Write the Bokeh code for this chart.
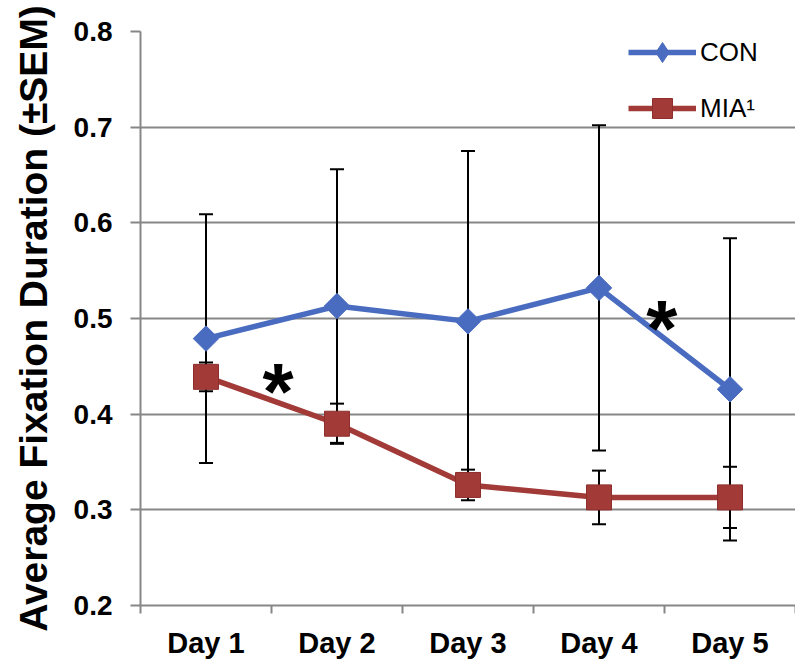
from bokeh.plotting import figure
from bokeh.models import FixedTicker, Whisker, ColumnDataSource, Legend, LegendItem, TeeHead
from bokeh.core.properties import value
from bokeh.embed import file_html
from bokeh.resources import INLINE

days = ["Day 1", "Day 2", "Day 3", "Day 4", "Day 5"]
con_mean = [0.479, 0.513, 0.497, 0.532, 0.426]
con_sem = [0.130, 0.143, 0.178, 0.170, 0.158]
mia_mean = [0.439, 0.390, 0.326, 0.313, 0.313]
mia_sem = [0.015, 0.021, 0.016, 0.028, 0.032]
y_ticks = [0.2, 0.3, 0.4, 0.5, 0.6, 0.7, 0.8]
sig_x = [1.55, 4.48]
sig_y = [0.435, 0.501]
sig_text = ["*", "*"]

CON_COLOR = "#4A6CC0"
MIA_COLOR = "#A23A38"
GRAY = "#878787"
FONT = "Liberation Sans"

x = list(range(1, len(days) + 1))
boundaries = [i + 0.5 for i in range(0, len(days) + 1)]

p = figure(output_backend="svg", toolbar_location=None,
           x_range=(0.5, len(days) + 0.5), y_range=(0.2, 0.8),
           frame_width=655, frame_height=574,
           min_border_left=140, min_border_right=0,
           min_border_top=31, min_border_bottom=60,
           tools="")
p.outline_line_color = None
p.background_fill_color = "white"

# grid
p.xgrid.grid_line_color = None
p.ygrid.grid_line_color = GRAY
p.ygrid.grid_line_width = 2
p.ygrid.ticker = FixedTicker(ticks=y_ticks)

# y axis
p.yaxis.ticker = FixedTicker(ticks=y_ticks)
p.yaxis.axis_line_color = GRAY
p.yaxis.axis_line_width = 2
p.yaxis.major_tick_line_color = GRAY
p.yaxis.major_tick_line_width = 2
p.yaxis.major_tick_out = 10
p.yaxis.major_tick_in = 0
p.yaxis.minor_tick_line_color = None
p.yaxis.major_label_text_font = FONT
p.yaxis.major_label_text_font_style = "bold"
p.yaxis.major_label_text_font_size = "28px"
p.yaxis.major_label_text_color = "black"
p.yaxis.major_label_standoff = 18
p.yaxis.axis_label = "Average Fixation Duration (\u00b1SEM)"
p.yaxis.axis_label_text_font = FONT
p.yaxis.axis_label_text_font_style = "bold"
p.yaxis.axis_label_text_font_size = "39px"
p.yaxis.axis_label_text_color = "black"
p.yaxis.axis_label_standoff = 16

# x axis
p.xaxis.ticker = FixedTicker(ticks=x, minor_ticks=boundaries)
p.xaxis.major_label_overrides = {xi: d for xi, d in zip(x, days)}
p.xaxis.axis_line_color = GRAY
p.xaxis.axis_line_width = 2
p.xaxis.major_tick_line_color = None
p.xaxis.major_tick_out = 8
p.xaxis.major_tick_in = 0
p.xaxis.minor_tick_line_color = GRAY
p.xaxis.minor_tick_line_width = 2
p.xaxis.minor_tick_out = 8
p.xaxis.minor_tick_in = 0
p.xaxis.major_label_text_font = FONT
p.xaxis.major_label_text_font_style = "bold"
p.xaxis.major_label_text_font_size = "29px"
p.xaxis.major_label_text_color = "black"
p.xaxis.major_label_standoff = 13

# error bars
con_src = ColumnDataSource(dict(x=x, y=con_mean,
                                upper=[m + s for m, s in zip(con_mean, con_sem)],
                                lower=[m - s for m, s in zip(con_mean, con_sem)]))
mia_src = ColumnDataSource(dict(x=x, y=mia_mean,
                                upper=[m + s for m, s in zip(mia_mean, mia_sem)],
                                lower=[m - s for m, s in zip(mia_mean, mia_sem)]))
for src in (con_src, mia_src):
    w = Whisker(base="x", upper="upper", lower="lower", source=src,
                line_color="black", line_width=2, level="underlay",
                upper_head=TeeHead(size=14, line_color="black", line_width=2),
                lower_head=TeeHead(size=14, line_color="black", line_width=2))
    p.add_layout(w)

# series
con_line = p.line("x", "y", source=con_src, line_color=CON_COLOR, line_width=5.5)
# diamond used for the legend key (legend markers ignore rotation); hidden under the rotated squares
con_key = p.scatter("x", "y", source=con_src, marker="diamond", size=18,
                    fill_color=CON_COLOR, line_color=CON_COLOR)
con_pts = p.scatter("x", "y", source=con_src, marker="square", size=18, angle=0.785398,
                    fill_color=CON_COLOR, line_color=CON_COLOR)
mia_line = p.line("x", "y", source=mia_src, line_color=MIA_COLOR, line_width=5.5)
mia_pts = p.scatter("x", "y", source=mia_src, marker="square", size=25,
                    fill_color=MIA_COLOR, line_color="#8E2F2E", line_width=1)

# significance markers
p.text(x=sig_x, y=sig_y, text=sig_text, text_font=value(FONT), text_font_style="bold",
       text_font_size="80px", text_align="center", text_baseline="alphabetic",
       y_offset=11, text_color="black")

legend = Legend(items=[LegendItem(label="CON", renderers=[con_line, con_key]),
                       LegendItem(label="MIA\u00b9", renderers=[mia_line, mia_pts])],
                location=(488, 472), orientation="vertical",
                glyph_width=68, glyph_height=50, label_height=50, spacing=6,
                padding=0, margin=0, border_line_color=None,
                background_fill_alpha=0, label_standoff=4,
                label_text_font=FONT, label_text_font_size="26px",
                label_text_color="black")
p.add_layout(legend)

open("out.html", "w").write(file_html(p, INLINE))
